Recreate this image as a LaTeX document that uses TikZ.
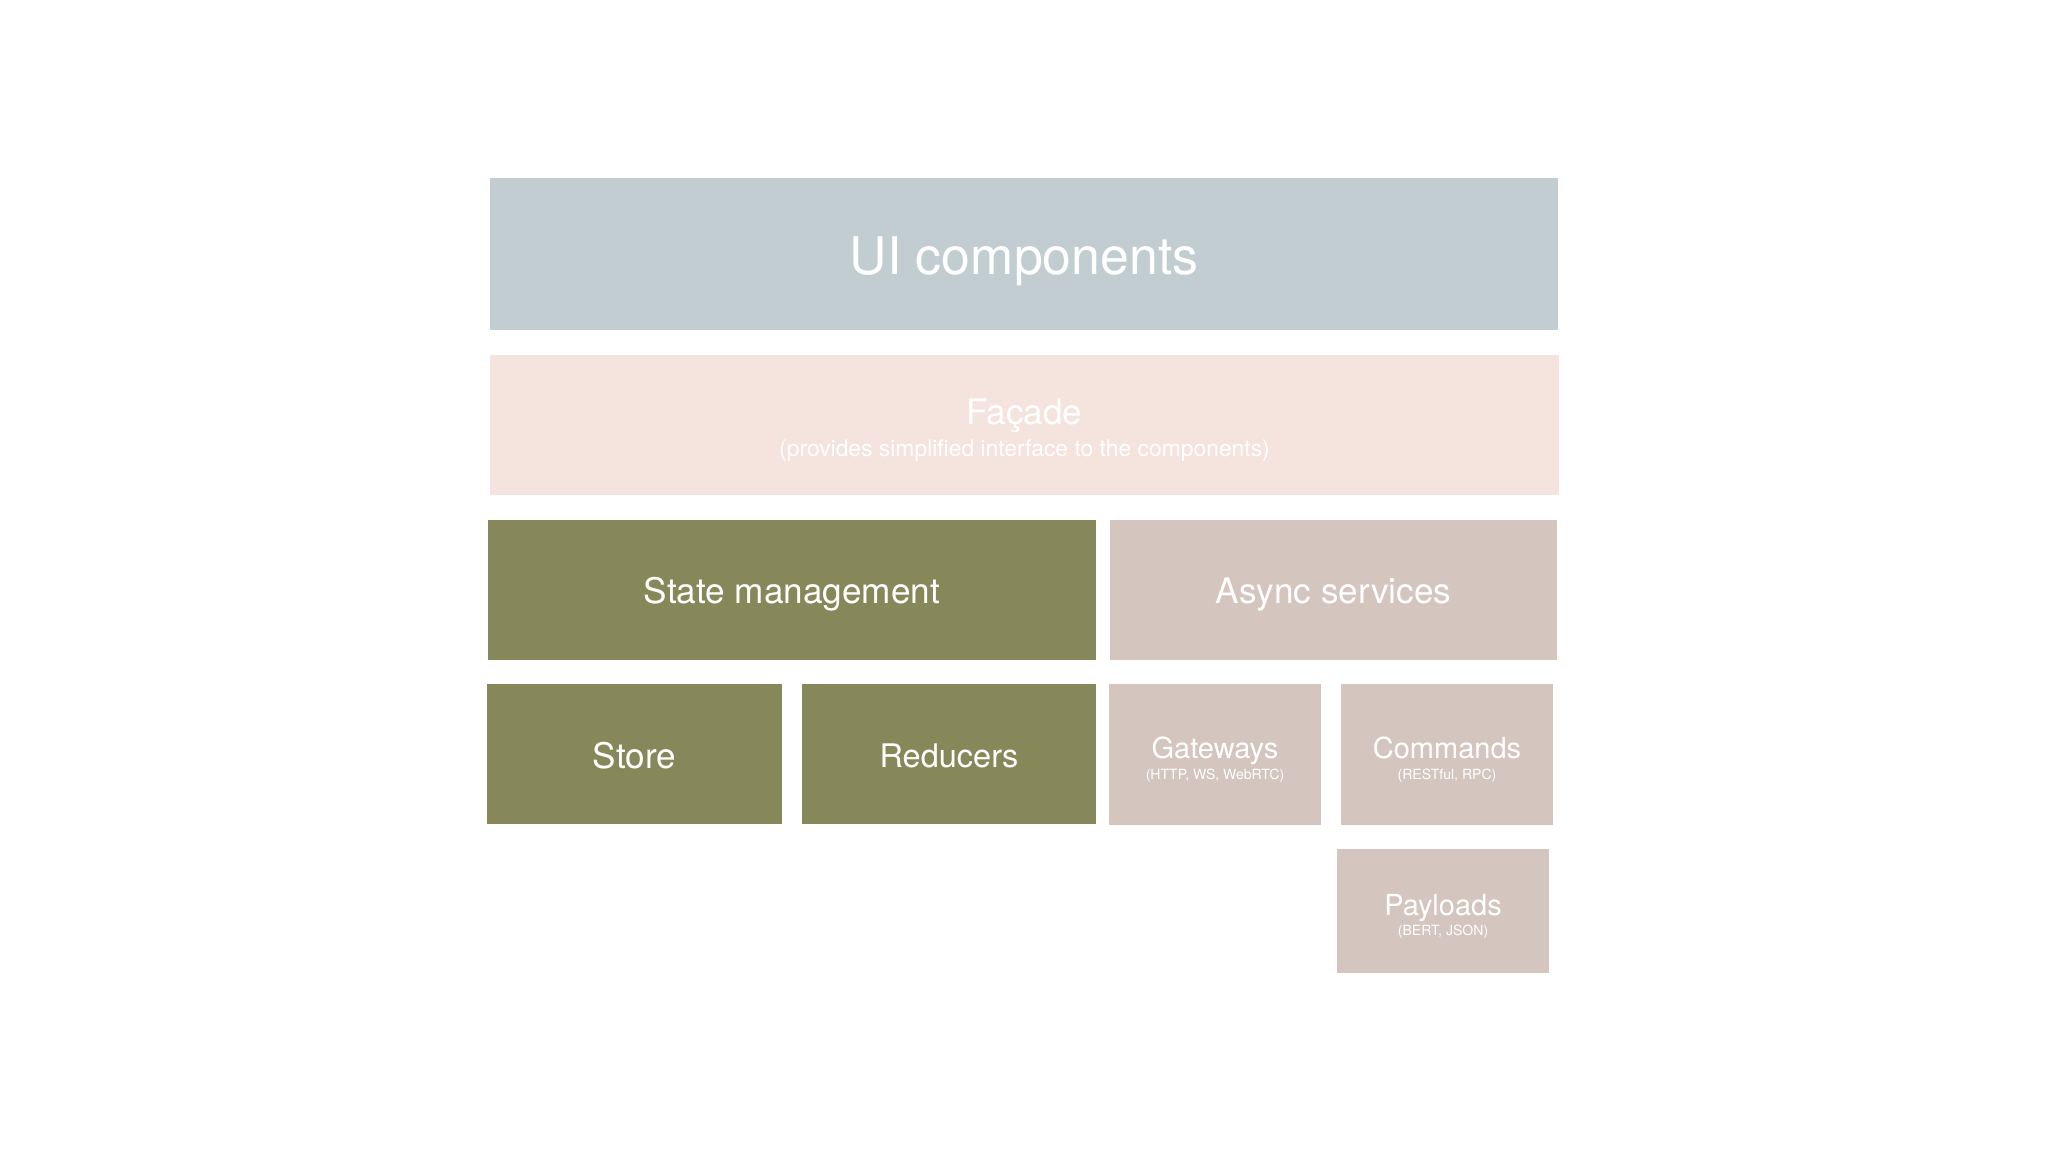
\documentclass[tikz,border=0pt]{standalone}
\usepackage{fontspec}
\setmainfont{TeX Gyre Heros}
\usepackage{xcolor}
\usepackage{tikz}
\definecolor{uiblue}{HTML}{C1CDD1}
\definecolor{facadepink}{HTML}{F5E3DD}
\definecolor{stateolive}{HTML}{87885A}
\definecolor{asynctaupe}{HTML}{D4C5BF}

\begin{document}
\begin{tikzpicture}[x=0.02cm,y=-0.02cm,
  layerbox/.style={inner sep=0pt,minimum height=2.8cm},
  every label/.style={text=white,align=center,inner sep=0pt}]
\useasboundingbox[fill=white] (0,0) rectangle (2048,1152);
% top layers
\node[layerbox,fill=uiblue,minimum width=21.36cm,minimum height=3.04cm,
  label={[font=\fontsize{29.5}{32}\selectfont,yshift=-4.4pt]center:UI components}] (ui) at (1024,254) {};
\node[layerbox,fill=facadepink,minimum width=21.38cm,
  label={[font=\fontsize{20}{18}\selectfont,yshift=-3pt]center:{Façade\\{\fontsize{13}{18}\selectfont (provides simplified interface to the components)}}}] (facade) at (1024.5,425) {};
% state and async
\node[layerbox,fill=stateolive,minimum width=12.16cm,
  label={[font=\fontsize{20}{24}\selectfont,yshift=-2.6pt]center:State management}] (state) at (792,590) {};
\node[layerbox,fill=asynctaupe,minimum width=8.94cm,
  label={[font=\fontsize{20}{24}\selectfont,yshift=-2.6pt]center:Async services}] (async) at (1333.5,590) {};
% parts
\node[layerbox,fill=stateolive,minimum width=5.9cm,
  label={[font=\fontsize{20}{24}\selectfont,yshift=-1pt]center:Store}] (store) at (634.5,754) {};
\node[layerbox,fill=stateolive,minimum width=5.88cm,
  label={[font=\fontsize{18.5}{24}\selectfont,yshift=-1pt]center:Reducers}] (reducers) at (949,754) {};
\node[layerbox,fill=asynctaupe,minimum width=4.24cm,minimum height=2.82cm,
  label={[font=\fontsize{16.5}{11.7}\selectfont,yshift=-3pt]center:{Gateways\\{\fontsize{8}{11.7}\selectfont (HTTP, WS, WebRTC)}}}] (gateways) at (1215,754.5) {};
\node[layerbox,fill=asynctaupe,minimum width=4.24cm,minimum height=2.82cm,
  label={[font=\fontsize{16.5}{11.7}\selectfont,yshift=-3pt]center:{Commands\\{\fontsize{8}{11.7}\selectfont (RESTful, RPC)}}}] (commands) at (1447,754.5) {};
\node[layerbox,fill=asynctaupe,minimum width=4.24cm,minimum height=2.48cm,
  label={[font=\fontsize{16.5}{11.7}\selectfont,yshift=-3pt]center:{Payloads\\{\fontsize{8}{11.7}\selectfont (BERT, JSON)}}}] (payloads) at (1443,911) {};
\end{tikzpicture}
\end{document}
